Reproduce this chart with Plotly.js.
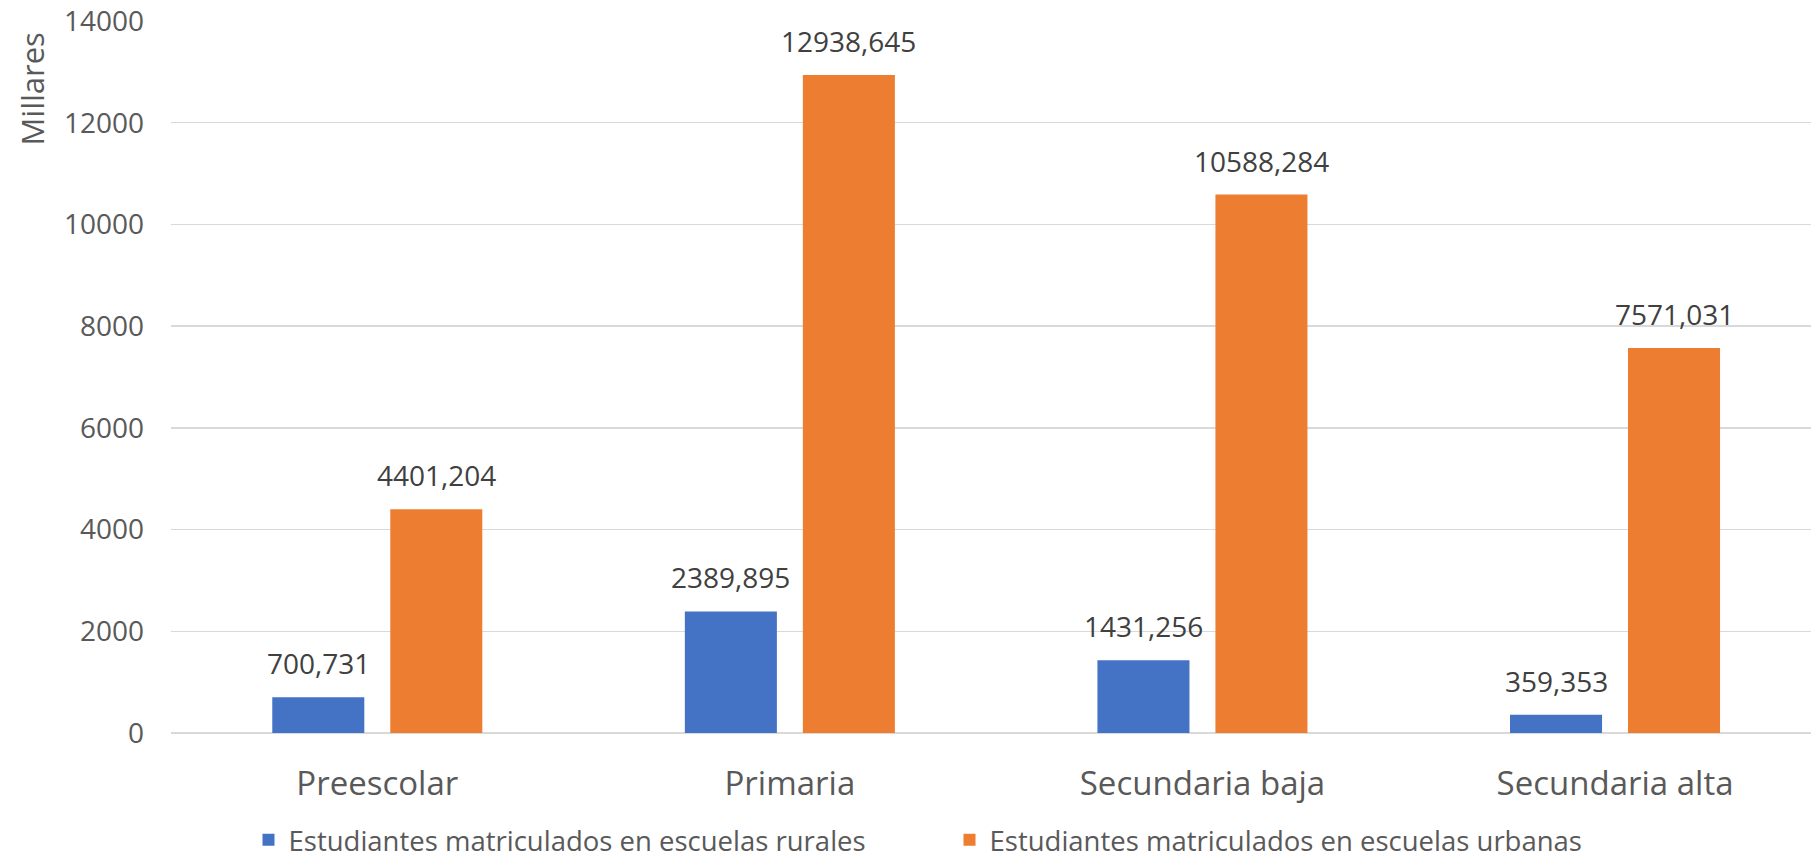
<!DOCTYPE html>
<html>
<head>
<meta charset="utf-8">
<script src="https://cdn.plot.ly/plotly-3.0.1.min.js"></script>
<style>html,body{margin:0;padding:0;background:#fff;}#chart{width:1811px;height:860px;}</style>
</head>
<body>
<div id="chart"></div>
<script>
const categories = ["Preescolar", "Primaria", "Secundaria baja", "Secundaria alta"];
const ruralName = "Estudiantes matriculados en escuelas rurales";
const urbanName = "Estudiantes matriculados en escuelas urbanas";
const rural = [700.731, 2389.895, 1431.256, 359.353];
const urban = [4401.204, 12938.645, 10588.284, 7571.031];
const yTicks = [0, 2000, 4000, 6000, 8000, 10000, 12000, 14000];

const fmt = v => v.toFixed(3).replace('.', ',');
const BARGAP = 0.428;
const off = (1 - BARGAP) / 4;

const labelFont = {family: "Open Sans, sans-serif", size: 28, color: "#404040"};
const annotations = [];
rural.forEach((v, i) => annotations.push({x: i - off, y: v, xref: 'x', yref: 'y', text: fmt(v), showarrow: false, yanchor: 'bottom', yshift: 13, font: labelFont}));
urban.forEach((v, i) => annotations.push({x: i + off, y: v, xref: 'x', yref: 'y', text: fmt(v), showarrow: false, yanchor: 'bottom', yshift: 13, font: labelFont}));
annotations.push({x: -0.0848, y: 0.905, xref: 'paper', yref: 'paper', xanchor: 'center', yanchor: 'middle', text: 'Millares', textangle: -90, showarrow: false, font: {family: "Open Sans, sans-serif", size: 31, color: "#595959"}});

const data = [
  {type: 'bar', name: ruralName, x: categories, y: rural, marker: {color: '#4472C4'}, hoverinfo: 'y'},
  {type: 'bar', name: urbanName, x: categories, y: urban, marker: {color: '#ED7D31'}, hoverinfo: 'y'}
];

const layout = {
  width: 1811, height: 860,
  margin: {l: 171, r: 0, t: 21, b: 127},
  paper_bgcolor: '#ffffff', plot_bgcolor: '#ffffff',
  barmode: 'group', bargap: BARGAP, bargroupgap: 0.22,
  font: {family: "Open Sans, sans-serif", color: '#595959'},
  xaxis: {
    type: 'category', range: [-0.5, 3.475], showgrid: false, showline: false, zeroline: false,
    tickfont: {size: 33, color: '#595959'}, ticklabelstandoff: 28
  },
  yaxis: {
    range: [0, 14000], tickvals: yTicks, ticktext: yTicks.map(String),
    showgrid: true, gridcolor: '#D9D9D9', gridwidth: 1.5,
    zeroline: true, zerolinecolor: '#D9D9D9', zerolinewidth: 1.5, showline: false,
    tickfont: {size: 28, color: '#595959'}, ticklabelstandoff: 26
  },
  showlegend: true,
  legend: {
    orientation: 'h', xref: 'container', yref: 'container', x: 0.5243, xanchor: 'center', y: 0.0233, yanchor: 'middle',
    font: {size: 27.5, color: '#595959'}, traceorder: 'normal', entrywidth: 656, entrywidthmode: 'pixels'
  },
  annotations: annotations
};

Plotly.newPlot('chart', data, layout, {staticPlot: true, displayModeBar: false});
</script>
</body>
</html>
